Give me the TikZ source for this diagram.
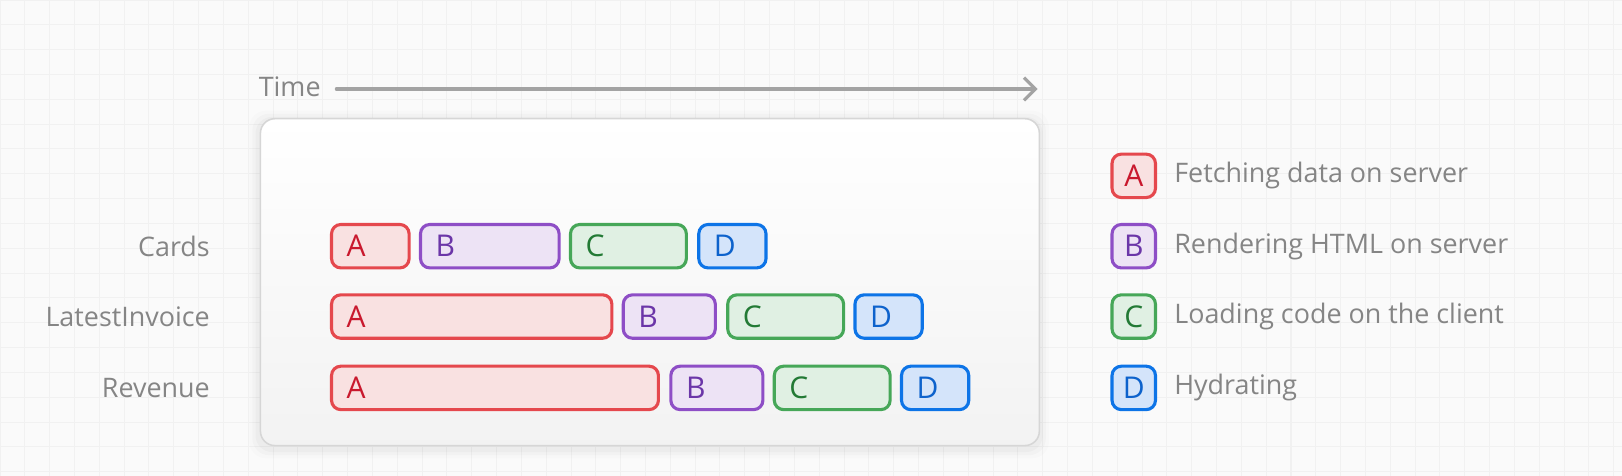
\documentclass[tikz,border=0pt]{standalone}
\usepackage{fontspec}
\setmainfont{Open Sans}
\usetikzlibrary{arrows.meta}
\definecolor{bg}{HTML}{FAFAFA}
\definecolor{gridc}{HTML}{F1F1F1}
\definecolor{txt}{HTML}{858585}
\definecolor{axis}{HTML}{A3A3A3}
\definecolor{panelb}{HTML}{D6D6D6}
\definecolor{rb}{HTML}{E5484D}\definecolor{rf}{HTML}{F9E1E1}\definecolor{rt}{HTML}{C9192E}
\definecolor{pb}{HTML}{8E4EC6}\definecolor{pf}{HTML}{EDE3F5}\definecolor{pt}{HTML}{6B36A8}
\definecolor{gb}{HTML}{46A758}\definecolor{gf}{HTML}{E0F0E3}\definecolor{gt}{HTML}{237A35}
\definecolor{bb}{HTML}{0D74E7}\definecolor{bf}{HTML}{D4E4FA}\definecolor{bt}{HTML}{0D62CC}
\tikzset{
  bar/.style n args={2}{draw=#1, fill=#2, line width=3, rounded corners=9, minimum height=42, inner sep=0, anchor=west},
  lett/.style={font=\fontsize{29}{32}\selectfont, text=#1, inner sep=0, anchor=west},
  lab/.style={font=\fontsize{26}{30}\selectfont, text=txt, inner sep=0},
  legbox/.style n args={2}{draw=#1, fill=#2, line width=3, rounded corners=9, minimum width=42, minimum height=42, inner sep=0},
}
\newcommand\segl[8]{%
  \node[bar={#4}{#5}, minimum width=#3-#2] (#1) at (#2,#7) {};
  \node[lett=#6] (#1t) at ([xshift=16]#1.west) {#8};}
\begin{document}
\begin{tikzpicture}[x=1pt,y=-1pt]
\fill[bg] (0,0) rectangle (1568,460);
\useasboundingbox (0,0) rectangle (1568,460);
\foreach \gx in {0,24,...,1568} \draw[gridc, line width=1] (\gx,0) -- (\gx,460);
\foreach \gy in {0,24,...,460} \draw[gridc, line width=1] (0,\gy) -- (1568,\gy);
% shadow
\foreach \s/\o in {10/0.012,7/0.018,4/0.025}
  \fill[black, opacity=\o, rounded corners=16] (251-\s,114-\s+3) rectangle (1004+\s,430+\s+3);
% panel
\node[draw=panelb, line width=1.5, rounded corners=14, top color=white, bottom color=white!95!black, minimum width=753, minimum height=316, inner sep=0, anchor=north west] (panel) at (251,114) {};
% time axis
\node[lab, anchor=base west] (time) at (250,93) {Time};
\coordinate (tend) at (1003,86);
\draw[axis, line width=3, line cap=round, -{Straight Barb[length=11,width=22,line width=3]}] ([xshift=15]time.east |- tend) -- (tend);
% row labels
\node[lab, anchor=east] (lcards) at (203,238) {Cards};
\node[lab, anchor=east] (linv) at (203,306) {LatestInvoice};
\node[lab, anchor=east] (lrev) at (203,375) {Revenue};
% rows
\segl{ca}{319}{394}{rb}{rf}{rt}{238}{A}
\segl{cb}{405}{539}{pb}{pf}{pt}{238}{B}
\segl{cc}{550}{662}{gb}{gf}{gt}{238}{C}
\segl{cd}{674}{739}{bb}{bf}{bt}{238}{D}
\segl{ia}{319}{590}{rb}{rf}{rt}{306}{A}
\segl{ib}{601}{690}{pb}{pf}{pt}{306}{B}
\segl{ic}{702}{814}{gb}{gf}{gt}{306}{C}
\segl{id}{825}{890}{bb}{bf}{bt}{306}{D}
\segl{ra}{319}{635}{rb}{rf}{rt}{375}{A}
\segl{rb}{647}{736}{pb}{pf}{pt}{375}{B}
\segl{rc}{747}{859}{gb}{gf}{gt}{375}{C}
\segl{rd}{870}{935}{bb}{bf}{bt}{375}{D}
% legend
\node[legbox={rb}{rf}] (la) at (1096,170) {}; \node[lett=rt, anchor=center] at (la) {A};
\node[legbox={pb}{pf}] (lb) at (1096,238) {}; \node[lett=pt, anchor=center] at (lb) {B};
\node[legbox={gb}{gf}] (lc) at (1096,306) {}; \node[lett=gt, anchor=center] at (lc) {C};
\node[legbox={bb}{bf}] (ld) at (1096,375) {}; \node[lett=bt, anchor=center] at (ld) {D};
\node[lab, anchor=west] at (1135,170) {Fetching data on server};
\node[lab, anchor=west] at (1135,238) {Rendering HTML on server};
\node[lab, anchor=west] at (1135,306) {Loading code on the client};
\node[lab, anchor=west] at (1135,375) {Hydrating};
\end{tikzpicture}
\end{document}
